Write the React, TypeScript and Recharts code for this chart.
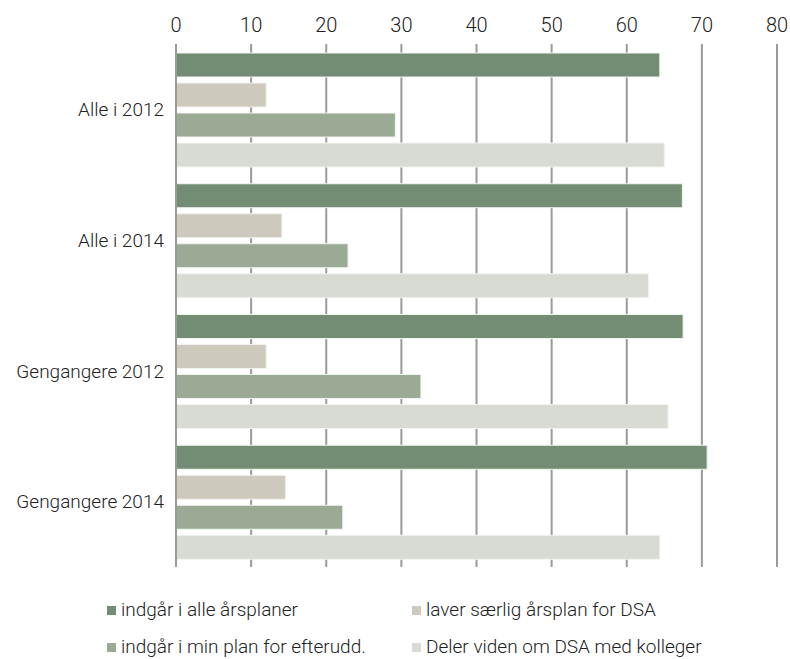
import { BarChart, Bar, XAxis, YAxis, CartesianGrid } from 'recharts';

const categories = ['Alle i 2012', 'Alle i 2014', 'Gengangere 2012', 'Gengangere 2014'];
const seriesNames = [
  'indgår i alle årsplaner',
  'laver særlig årsplan for DSA',
  'indgår i min plan for efterudd.',
  'Deler viden om DSA med kolleger',
];
const seriesColors = ['#738c74', '#cdc9bd', '#9aaa95', '#d8dbd4'];
const aarsplaner = [64.4, 67.4, 67.5, 70.7];
const saerligPlan = [12.0, 14.1, 12.0, 14.6];
const efteruddannelse = [29.2, 22.9, 32.6, 22.2];
const delerViden = [65.0, 62.9, 65.5, 64.4];
const xTicks = [0, 10, 20, 30, 40, 50, 60, 70, 80];

const data = categories.map((name, i) => ({
  name,
  s1: aarsplaner[i],
  s2: saerligPlan[i],
  s3: efteruddannelse[i],
  s4: delerViden[i],
}));

const font = 'Roboto, "Open Sans", sans-serif';

export default function App() {
  const keys = ['s1', 's2', 's3', 's4'];
  return (
    <div style={{ position: 'absolute', left: 0, top: 0, width: 790, height: 659, background: '#fff', fontFamily: font }}>
      <BarChart
        width={790}
        height={659}
        data={data}
        layout="vertical"
        margin={{ top: 14, right: 13, bottom: 92, left: 0 }}
        barCategoryGap={9}
        barGap={6}
      >
        <CartesianGrid horizontal={false} vertical={true} stroke="#9a9a9a" strokeWidth={2} />
        <XAxis
          type="number"
          orientation="top"
          domain={[0, 80]}
          ticks={xTicks}
          height={30}
          axisLine={false}
          tickLine={false}
          tickMargin={6}
          tick={{ fill: '#222', fontSize: 20, fontFamily: font, fontWeight: 300 }}
        />
        <YAxis
          type="category"
          dataKey="name"
          width={176}
          axisLine={{ stroke: '#9a9a9a', strokeWidth: 2 }}
          tickLine={false}
          tickMargin={6}
          tick={{ fill: '#222', fontSize: 19, fontFamily: font, fontWeight: 300 }}
        />
        {keys.map((k, i) => (
          <Bar
            key={k}
            dataKey={k}
            name={seriesNames[i]}
            fill={seriesColors[i]}
            stroke="#f2f3f0"
            strokeWidth={1}
            isAnimationActive={false}
          />
        ))}
      </BarChart>
      <div
        style={{
          position: 'absolute',
          left: 107,
          top: 600,
          display: 'grid',
          gridTemplateColumns: '305px 320px',
          rowGap: 17,
          fontSize: 19,
          fontWeight: 300,
          color: '#222',
          lineHeight: '20px',
        }}
      >
        {seriesNames.map((n, i) => (
          <div key={n} style={{ display: 'flex', alignItems: 'center', whiteSpace: 'nowrap' }}>
            <span style={{ width: 9, height: 9, background: seriesColors[i], marginRight: 5, display: 'inline-block' }} />
            {n}
          </div>
        ))}
      </div>
    </div>
  );
}
